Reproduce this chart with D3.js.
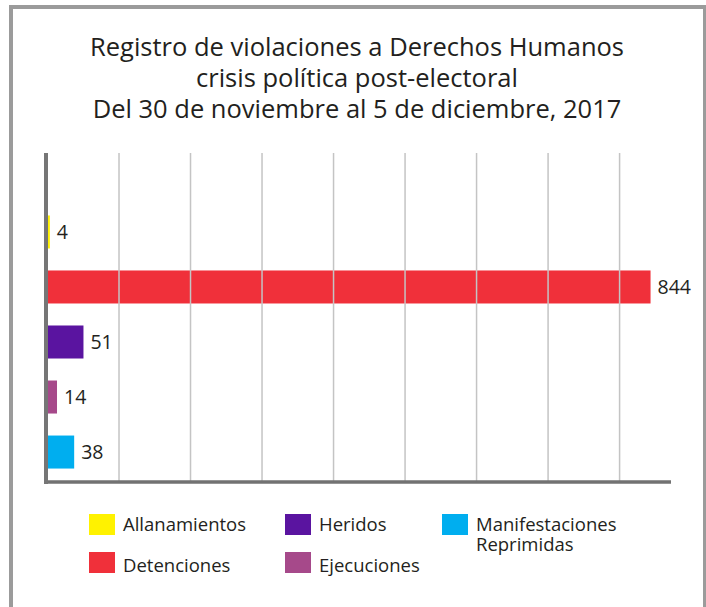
<!DOCTYPE html>
<html>
<head>
<meta charset="utf-8">
<script src="https://cdn.jsdelivr.net/npm/d3@7"></script>
<style>
  body { margin: 0; background: #fff; }
  svg { display: block; font-family: "Open Sans", "Noto Sans", sans-serif; }
</style>
</head>
<body>
<script>
// data
var categories = ["Allanamientos", "Detenciones", "Heridos", "Ejecuciones", "Manifestaciones Reprimidas"];
var values = [4, 844, 51, 14, 38];
var colors = ["#fff200", "#f0303a", "#5a14a0", "#a6498a", "#00aeef"];
var titleLines = [
  "Registro de violaciones a Derechos Humanos",
  "crisis política post-electoral",
  "Del 30 de noviembre al 5 de diciembre, 2017"
];
var gridTicks = [100, 200, 300, 400, 500, 600, 700, 800];

var data = categories.map(function(c, i) {
  return { name: c, value: values[i], color: colors[i] };
});

var width = 706, height = 607;
var plot = { left: 47, right: 672, top: 153, bottom: 482 };

var svg = d3.select("body").append("svg")
    .attr("width", width)
    .attr("height", height);

// outer frame
svg.append("rect")
    .attr("x", 11).attr("y", 7)
    .attr("width", 694).attr("height", 640)
    .attr("fill", "none")
    .attr("stroke", "#9b9b9b")
    .attr("stroke-width", 4);

// title
svg.append("g").selectAll("text")
    .data(titleLines)
  .enter().append("text")
    .attr("x", 357)
    .attr("y", function(d, i) { return 56 + i * 31; })
    .attr("text-anchor", "middle")
    .attr("fill", "#231f20")
    .style("font-size", "25.5px")
    .text(function(d) { return d; });

// scales
var x = d3.scaleLinear().domain([0, 874]).range([plot.left, plot.right]);
var y = d3.scaleBand().domain(categories)
    .range([205, plot.bottom - 3])
    .paddingInner(0.4)
    .paddingOuter(0.19);

// bars
svg.append("g").selectAll("rect")
    .data(data)
  .enter().append("rect")
    .attr("x", x(0))
    .attr("y", function(d) { return y(d.name); })
    .attr("width", function(d) { return x(d.value) - x(0); })
    .attr("height", y.bandwidth())
    .attr("fill", function(d) { return d.color; });

// gridlines (drawn over the bars, like the original)
var grid = svg.append("g")
    .attr("transform", "translate(0," + plot.bottom + ")")
    .call(d3.axisBottom(x)
      .tickValues(gridTicks)
      .tickSize(-(plot.bottom - plot.top))
      .tickFormat(""));
grid.select(".domain").remove();
grid.selectAll(".tick line")
    .attr("stroke", "#c4c4c4")
    .attr("stroke-width", 1.5);

// axes lines
svg.append("line")
    .attr("x1", 44).attr("x2", plot.right - 1)
    .attr("y1", plot.bottom).attr("y2", plot.bottom)
    .attr("stroke", "#727272")
    .attr("stroke-width", 3.5);
svg.append("line")
    .attr("x1", 46).attr("x2", 46)
    .attr("y1", plot.top).attr("y2", plot.bottom + 2)
    .attr("stroke", "#767676")
    .attr("stroke-width", 4);

// value labels
svg.append("g").selectAll("text")
    .data(data)
  .enter().append("text")
    .attr("x", function(d) { return x(d.value) + 7; })
    .attr("y", function(d) { return y(d.name) + y.bandwidth() / 2 + 7; })
    .attr("fill", "#231f20")
    .style("font-size", "19.5px")
    .text(function(d) { return d.value; });

// legend, two rows per column
var colX = [89, 285, 442];
var legend = svg.append("g").selectAll("g")
    .data(data)
  .enter().append("g")
    .attr("transform", function(d, i) {
      var col = Math.floor(i / 2), row = i % 2;
      return "translate(" + colX[col] + "," + (514 + row * 38) + ")";
    });

legend.append("rect")
    .attr("width", 26)
    .attr("height", 21)
    .attr("fill", function(d) { return d.color; });

legend.append("text")
    .attr("fill", "#231f20")
    .style("font-size", "18.5px")
    .each(function(d, i) {
      var row = i % 2;
      var words = d.name.split(" ");
      var t = d3.select(this);
      words.forEach(function(w, k) {
        t.append("tspan")
          .attr("x", 34)
          .attr("y", (row ? 20 : 17) + k * 20)
          .text(w);
      });
    });
</script>
</body>
</html>
